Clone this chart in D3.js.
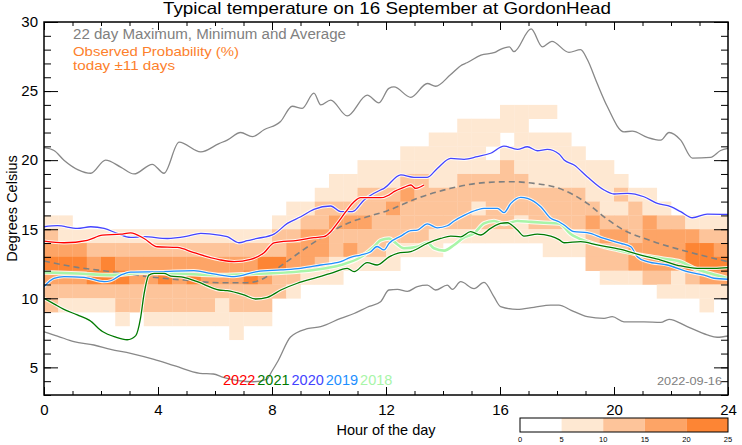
<!DOCTYPE html>
<html><head><meta charset="utf-8">
<script src="https://cdn.jsdelivr.net/npm/d3@7/dist/d3.min.js"></script>
<style>
body{margin:0;background:#fff}
text{font-family:"Liberation Sans",Arial,Helvetica,sans-serif}
</style>
</head><body>
<svg id="c" width="742" height="445"></svg>
<script>
// ---------------- data ----------------
const xTicks = [0, 4, 8, 12, 16, 20, 24];
const yTicks = [5, 10, 15, 20, 25, 30];
const years = ["2022", "2021", "2020", "2019", "2018"];
const yearColors = ["#ff0000", "#007a00", "#4444ff", "#1e8fff", "#a8f5a8"];
const probBreaks = [0, 5, 10, 15, 20, 25];
const probColors = ["#ffffff", "#fee8d2", "#fdc49a", "#fda466", "#fd8534"];
// probability bins (0:0-5%,1:5-10%,2:10-15%,3:15-20%,4:20-25%), one char per half hour, rows by lower temperature
const rowTemps = [23, 22, 21, 20, 19, 18, 17, 16, 15, 14, 13, 12, 11, 10, 9, 8, 7];
const probBins = [
  "000000000000000000000000000000001111000000000000",
  "000000000000000000000000000001111100000000000000",
  "000000000000000000000000000111110111100000000000",
  "000000000000000000000000011111101111110000000000",
  "000000000000000000000011111111112111111100000000",
  "000000000000000000001111122112222211111110000000",
  "000000000000000000011122232222222222221121100000",
  "000000000000000001122222322222122222222112110000",
  "110000000000000011223332222222222122223222322111",
  "211111111111111122332222222111111111112332333322",
  "333222222222222223332322111100000001112223333443",
  "444343333333333443321111100000000000002223333444",
  "333444334343334322111000000000000000000111221233",
  "222222222222222221000000000000000000000000011111",
  "211112222222122200000000000000000000000000000010",
  "000001011111111100000000000000000000000000000000",
  "000000000000010000000000000000000000000000000000"
];
const maxLine = [[0,20.9],[0.35,20.7],[0.7,20.0],[1.2,19.3],[1.64,19.05],[2.16,20.0],[2.69,19.5],[3.16,19.0],[3.8,19.7],[4.21,19.05],[4.74,21.3],[5.5,20.6],[6.14,21.2],[6.43,21.45],[6.9,22.0],[7.31,21.7],[7.72,22.2],[8.3,22.8],[8.71,23.9],[9.06,23.75],[9.47,24.85],[9.71,24.0],[10.06,24.35],[10.64,23.2],[11.34,24.7],[11.75,24.15],[12.1,25.2],[12.28,25.3],[12.87,24.55],[13.45,25.55],[13.74,25.35],[14.27,26.2],[14.67,26.9],[14.84,27.05],[15.33,27.6],[15.82,27.8],[16.0,28.0],[16.33,28.2],[16.49,27.85],[17.09,29.5],[17.49,28.2],[17.82,28.6],[18.42,27.8],[18.83,28.0],[19.06,27.3],[19.4,25.6],[19.76,23.9],[20.35,22.05],[20.64,22.1],[21.17,21.65],[21.64,21.45],[21.93,22.0],[22.34,21.45],[22.75,20.15],[23.39,20.2],[23.74,20.7],[24,20.85]];
const minLine = [[0,7.58],[0.47,7.27],[1.05,6.86],[1.75,6.62],[2.34,6.31],[3.04,6.02],[3.86,5.58],[4.6,5.1],[5.47,4.57],[5.94,4.52],[6.29,4.28],[7.34,3.96],[7.81,4.13],[7.99,4.7],[8.22,5.5],[8.65,7.2],[9.24,7.8],[9.71,7.95],[10.41,8.55],[10.88,8.9],[11.34,9.35],[11.81,9.75],[12.1,10.6],[12.4,10.65],[12.75,10.5],[13.1,10.85],[13.45,10.95],[13.74,10.6],[14.15,10.95],[14.33,10.65],[14.62,11.2],[15.09,10.7],[15.44,11.15],[15.79,10.1],[16.02,9.4],[16.6,9.2],[17.19,9.35],[17.78,9.5],[18.07,9.5],[18.48,9.15],[19.06,8.67],[19.65,8.55],[19.94,8.67],[20.35,8.3],[21.05,8.3],[21.64,8.25],[21.93,8.48],[22.57,7.95],[23.27,7.35],[23.62,7.18],[24,7.27]];
const avgLine = [[0,12.7],[1.17,12.24],[2.34,11.93],[3.51,11.6],[4.91,11.32],[6.14,11.13],[7.13,11.13],[7.72,11.45],[8.31,12.34],[9.01,13.38],[9.82,14.5],[10.64,15.42],[11.34,15.9],[12.05,16.34],[13.1,17.24],[14.27,17.96],[15.44,18.37],[16.38,18.44],[17.19,18.32],[18.07,17.96],[19.06,16.87],[19.65,15.9],[20.24,15.06],[21.4,14.1],[22.57,13.38],[24,12.65]];
const y2022 = [[0,14.14],[0.7,14.02],[1.52,14.2],[2.05,14.57],[2.69,14.64],[3.04,14.74],[3.51,14.33],[3.98,13.73],[4.68,13.68],[5.26,13.3],[6.14,12.8],[6.67,12.65],[7.25,12.82],[7.72,13.3],[8.07,14.02],[8.89,14.2],[9.47,14.39],[9.82,14.46],[10.06,14.82],[10.29,15.42],[10.59,16.27],[10.88,16.99],[11.11,17.28],[11.81,17.28],[12.11,17.48],[12.28,17.72],[12.63,18.03],[12.87,18.2],[13.04,17.96],[13.33,18.2]];
const y2021 = [[0,10.0],[0.35,9.6],[0.7,9.2],[1.17,8.8],[1.6,8.4],[2.05,7.6],[2.5,7.2],[2.92,7.0],[3.22,7.3],[3.39,8.6],[3.51,10.3],[3.68,11.68],[3.86,11.8],[4.21,11.8],[4.45,11.61],[4.91,11.52],[5.38,11.2],[6.14,10.6],[6.43,10.55],[7.02,10.24],[7.43,9.95],[7.84,10.07],[8.31,10.6],[8.89,11.09],[9.47,11.45],[10.06,11.8],[10.64,12.17],[10.88,11.93],[11.34,12.58],[11.69,12.41],[12.11,13.0],[12.4,13.26],[12.87,13.38],[13.45,13.98],[13.92,14.33],[14.27,14.5],[14.62,14.45],[14.97,14.82],[15.32,14.58],[15.67,15.06],[16.02,15.42],[16.26,15.47],[16.61,14.94],[16.84,14.5],[17.31,14.65],[17.78,14.5],[18.07,14.25],[18.25,14.02],[18.83,14.1],[19.41,13.86],[20.24,13.54],[20.94,13.13],[21.64,12.77],[22.34,12.34],[22.92,12.17],[23.51,12.17],[24,12.22]];
const y2020 = [[0,15.18],[0.47,15.26],[1.17,15.06],[1.64,15.18],[2.11,15.06],[2.57,14.7],[3.04,14.41],[3.51,14.46],[4.33,14.33],[5.03,14.5],[5.5,14.7],[6.14,14.58],[6.43,14.46],[6.84,14.02],[7.13,14.17],[7.48,14.33],[8.07,14.65],[8.54,15.42],[9.01,15.9],[9.47,16.44],[10.06,16.68],[10.41,16.27],[10.82,16.27],[11.23,17.12],[11.58,17.6],[11.81,17.84],[11.93,17.96],[12.52,18.93],[12.98,18.76],[13.45,18.76],[13.8,19.4],[14.27,20.13],[14.74,20.06],[15.2,20.25],[15.67,20.5],[16.14,21.02],[16.61,20.78],[16.96,20.97],[17.31,20.68],[17.66,20.78],[18.07,20.45],[18.25,20.01],[18.6,19.65],[19.06,18.8],[19.65,17.84],[20.0,17.55],[20.47,17.6],[21.05,17.35],[21.52,16.87],[21.99,16.63],[22.34,16.27],[22.75,15.83],[23.27,16.1],[24,16.08]];
const y2019 = [[0,10.84],[0.35,11.45],[0.7,11.57],[1.4,11.52],[2.11,11.2],[2.34,11.27],[2.69,11.68],[3.04,11.9],[4.09,11.93],[5.26,12.0],[5.85,11.8],[6.14,11.7],[6.67,11.57],[7.48,11.93],[8.31,12.05],[9.01,12.17],[9.71,12.41],[10.41,12.65],[10.76,12.97],[11.11,13.13],[11.45,13.35],[11.69,13.75],[11.93,13.5],[12.11,13.98],[12.52,14.5],[12.87,14.9],[13.1,14.94],[13.45,15.38],[13.8,15.1],[14.15,15.25],[14.39,15.6],[14.74,16.0],[15.2,16.4],[15.44,16.51],[15.91,16.51],[16.14,16.2],[16.38,16.87],[16.73,17.31],[16.96,17.24],[17.43,16.63],[17.78,15.79],[18.07,15.54],[18.25,15.3],[18.6,14.82],[19.06,14.75],[19.65,14.33],[20.24,13.98],[20.59,13.73],[20.82,13.01],[21.17,12.65],[21.87,12.41],[22.57,11.93],[23.16,11.68],[23.51,11.45],[24,11.38]];
const y2018 = [[0,11.88],[1.17,11.8],[2.34,11.68],[3.51,11.85],[4.68,11.8],[6.14,11.68],[7.13,11.76],[8.31,11.85],[9.47,12.05],[10.41,12.41],[11.11,12.97],[11.58,13.73],[11.81,14.2],[12.11,14.33],[12.28,14.1],[12.63,13.62],[13.1,13.73],[13.45,14.02],[13.68,13.62],[14.04,13.45],[14.39,13.86],[14.74,14.41],[15.09,14.7],[15.44,15.42],[15.79,15.6],[16.14,15.38],[16.61,15.6],[17.08,15.53],[17.54,15.47],[18.07,15.42],[18.48,14.65],[19.06,14.1],[19.65,13.73],[20.24,13.45],[20.94,13.13],[21.64,12.89],[22.34,12.65],[22.81,12.17],[23.39,11.8],[24,11.45]];
const yearSeries = [y2022, y2021, y2020, y2019, y2018];
const dateStamp = "2022-09-16";

// ---------------- chart ----------------
const svg = d3.select("#c");
const L = 44, R = 728, T = 22, B = 395;
const x = d3.scaleLinear().domain([0, 24]).range([L, R]);
const y = d3.scaleLinear().domain([3, 30]).range([B, T]);
const color = d3.scaleThreshold().domain(probBreaks.slice(1, -1)).range(probColors);
const binMid = b => probBreaks[b] + 2.5;

const plot = svg.append("g");
plot.append("defs").append("clipPath").attr("id", "clip")
  .append("rect").attr("x", L).attr("y", T).attr("width", R - L).attr("height", B - T);

// heatmap
const cells = [];
rowTemps.forEach((t, i) => {
  probBins[i].split("").forEach((ch, j) => {
    const b = +ch;
    if (b > 0) cells.push({h: j * 0.5, t: t, p: binMid(b)});
  });
});
plot.append("g").selectAll("rect").data(cells).join("rect")
  .attr("x", d => x(d.h)).attr("y", d => y(d.t + 1))
  .attr("width", d => x(d.h + 0.5) - x(d.h) + 0.3)
  .attr("height", d => y(d.t) - y(d.t + 1) + 0.3)
  .attr("fill", d => color(d.p));

const line = d3.line().x(d => x(d[0])).y(d => y(d[1])).curve(d3.curveMonotoneX);
const lines = plot.append("g").attr("clip-path", "url(#clip)");

// max/min
[maxLine, minLine].forEach(s => {
  lines.append("path").attr("d", line(s)).attr("fill", "none")
    .attr("stroke", "#888").attr("stroke-width", 1.3);
});
// average dashed
lines.append("path").attr("d", line(avgLine)).attr("fill", "none")
  .attr("stroke", "#808080").attr("stroke-width", 1.6).attr("stroke-dasharray", "6,4");

// year lines, drawn oldest first
for (let k = yearSeries.length - 1; k >= 0; k--) {
  const s = yearSeries[k];
  const w = k === 4 ? 2.6 : 1.3;
  lines.append("path").attr("d", line(s)).attr("fill", "none")
    .attr("stroke", "#fff").attr("stroke-width", w + 2).attr("stroke-opacity", 0.85);
  lines.append("path").attr("d", line(s)).attr("fill", "none")
    .attr("stroke", yearColors[k]).attr("stroke-width", w);
}

// axes
const fmt = d3.format("d");
const minorX = d3.range(0, 25, 1);
const minorY = d3.range(3, 31, 1);
function styleAxis(g) { g.select(".domain").remove(); g.selectAll("line").attr("stroke", "#000").attr("stroke-width", 1); }

svg.append("g").attr("transform", `translate(0,${B})`)
  .call(d3.axisBottom(x).tickValues(minorX).tickSize(-4).tickFormat("")).call(styleAxis);
svg.append("g").attr("transform", `translate(0,${B})`)
  .call(d3.axisBottom(x).tickValues(xTicks).tickSize(-8).tickPadding(9).tickFormat(fmt)).call(styleAxis)
  .selectAll("text").attr("font-size", 15).attr("fill", "#000");
svg.append("g").attr("transform", `translate(0,${T})`)
  .call(d3.axisTop(x).tickValues(minorX).tickSize(-4).tickFormat("")).call(styleAxis);
svg.append("g").attr("transform", `translate(0,${T})`)
  .call(d3.axisTop(x).tickValues(xTicks).tickSize(-8).tickFormat("")).call(styleAxis);

svg.append("g").attr("transform", `translate(${L},0)`)
  .call(d3.axisLeft(y).tickValues(minorY).tickSize(-7).tickFormat("")).call(styleAxis);
svg.append("g").attr("transform", `translate(${L},0)`)
  .call(d3.axisLeft(y).tickValues(yTicks).tickSize(-14).tickPadding(6).tickFormat(fmt)).call(styleAxis)
  .selectAll("text").attr("font-size", 15).attr("fill", "#000");
svg.append("g").attr("transform", `translate(${R},0)`)
  .call(d3.axisRight(y).tickValues(minorY).tickSize(-7).tickFormat("")).call(styleAxis);
svg.append("g").attr("transform", `translate(${R},0)`)
  .call(d3.axisRight(y).tickValues(yTicks).tickSize(-14).tickFormat("")).call(styleAxis);

svg.append("rect").attr("x", L).attr("y", T).attr("width", R - L).attr("height", B - T)
  .attr("fill", "none").attr("stroke", "#000").attr("stroke-width", 1.5);

// titles
svg.append("text").attr("x", 163).attr("y", 14)
  .attr("font-size", 16.5).attr("textLength", 448).attr("lengthAdjust", "spacingAndGlyphs")
  .text("Typical temperature on 16 September at GordonHead");
svg.append("text").attr("x", (L + R) / 2).attr("y", 435).attr("text-anchor", "middle")
  .attr("font-size", 14.5).text("Hour of the day");
svg.append("text").attr("transform", `translate(17,${(T + B) / 2}) rotate(-90)`)
  .attr("text-anchor", "middle").attr("font-size", 14.5).text("Degrees Celsius");

// legend text
svg.append("text").attr("x", 73).attr("y", 39).attr("font-size", 14).attr("fill", "#808080")
  .attr("textLength", 273).attr("lengthAdjust", "spacingAndGlyphs")
  .text("22 day Maximum, Minimum and Average");
svg.append("text").attr("x", 73).attr("y", 55.5).attr("font-size", 13.5).attr("fill", "#fd7f2c")
  .attr("textLength", 166).attr("lengthAdjust", "spacingAndGlyphs")
  .text("Observed Probability (%)");
svg.append("text").attr("x", 73).attr("y", 69.5).attr("font-size", 13.5).attr("fill", "#fd7f2c")
  .attr("textLength", 102).attr("lengthAdjust", "spacingAndGlyphs")
  .text("today \u00b111 days");

// year labels
let cx = 223;
years.forEach((yr, k) => {
  const t = svg.append("text").attr("x", cx).attr("y", 385).attr("font-size", 14.5)
    .attr("fill", yearColors[k]).text(yr);
  cx += t.node().getComputedTextLength() + 2;
});
svg.append("text").attr("x", 657).attr("y", 385)
  .attr("font-size", 10.5).attr("fill", "#808080")
  .attr("textLength", 65).attr("lengthAdjust", "spacingAndGlyphs").text(dateStamp);

// colorbar
const cb = d3.scaleLinear().domain([0, 25]).range([520, R]);
const cbg = svg.append("g");
cbg.selectAll("rect").data(probColors).join("rect")
  .attr("x", (d, i) => cb(probBreaks[i])).attr("y", 418)
  .attr("width", (d, i) => cb(probBreaks[i + 1]) - cb(probBreaks[i])).attr("height", 14)
  .attr("fill", d => d);
cbg.append("rect").attr("x", cb(0)).attr("y", 418).attr("width", cb(25) - cb(0)).attr("height", 14)
  .attr("fill", "none").attr("stroke", "#000").attr("stroke-width", 1);
cbg.selectAll("text").data(probBreaks).join("text")
  .attr("x", d => cb(d)).attr("y", 442).attr("text-anchor", "middle")
  .attr("font-size", 7.5).text(d => d);
</script>
</body></html>
